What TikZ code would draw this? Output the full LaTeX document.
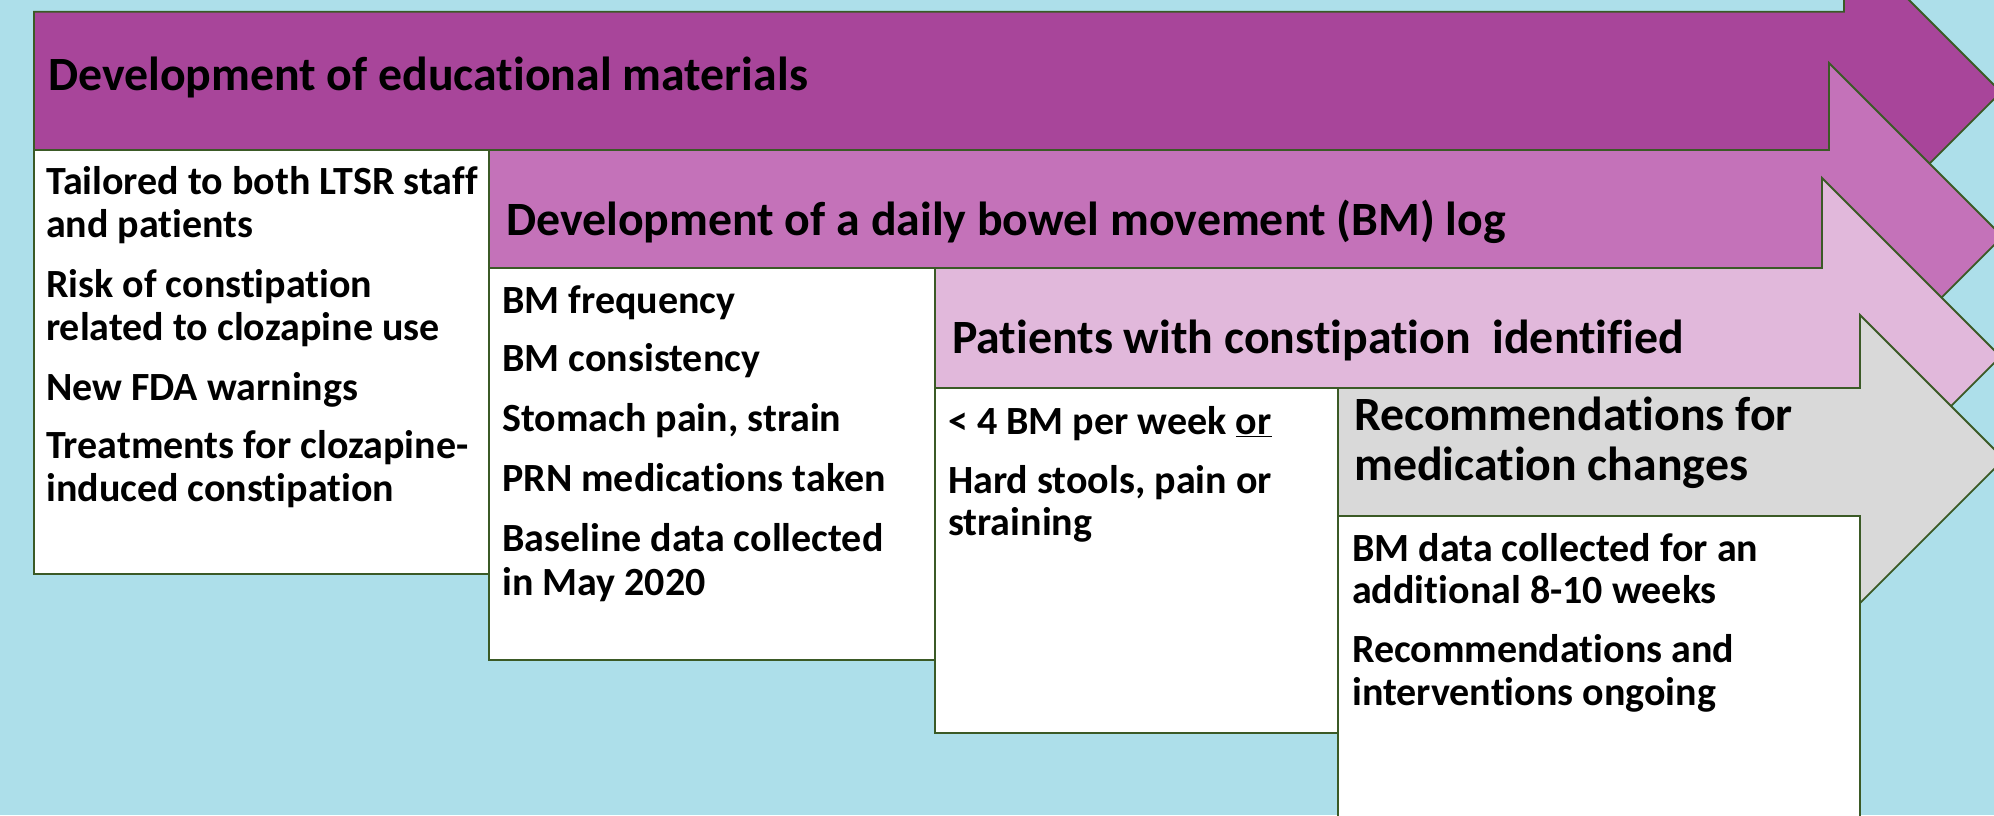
\documentclass[tikz,border=0pt]{standalone}
\usepackage{fontspec}
\setmainfont{Carlito}[Ligatures=NoCommon]
\definecolor{bgblue}{HTML}{ADDFEA}
\definecolor{aone}{HTML}{A8459A}
\definecolor{atwo}{HTML}{C472B9}
\definecolor{athree}{HTML}{E1B8DB}
\definecolor{afour}{HTML}{D9D9D9}
\definecolor{edge}{HTML}{3B5A26}
\begin{document}
\begin{tikzpicture}[x=1pt,y=-1pt,line join=miter,
  shp/.style={draw=edge,line width=1.8pt},
  wbox/.style={draw=edge,line width=1.8pt,fill=white},
  hd/.style={anchor=base west,inner sep=0pt,font=\fontsize{47.8}{50}\selectfont\bfseries},
  bt/.style={anchor=base west,inner sep=0pt,font=\fontsize{40}{43}\selectfont\bfseries}]
\useasboundingbox (0,0) rectangle (1994,815);
\fill[bgblue] (0,0) rectangle (1994,815);
\clip (0,0) rectangle (1994,815);
% arrow 1
\draw[shp,fill=aone] (34,11.7) -- (1844,11.7) -- (1844,-65) -- (2001,92) -- (1844,249) -- (1844,172) -- (34,172) -- cycle;
\draw[wbox] (34,150) rectangle (489,574);
% arrow 2
\draw[shp,fill=atwo] (489,150) -- (1829,150) -- (1829,63) -- (2002.5,236.5) -- (1829,410) -- (1829,322) -- (489,322) -- cycle;
\draw[wbox] (489,268) rectangle (935,660);
% arrow 3
\draw[shp,fill=athree] (935,268) -- (1822,268) -- (1822,178) -- (2000.5,356.5) -- (1822,535) -- (1822,445) -- (935,445) -- cycle;
\draw[wbox] (935,388) rectangle (1338,733);
% arrow 4
\draw[shp,fill=afour] (1338,388) -- (1860,388) -- (1860,315) -- (2004,459) -- (1860,603) -- (1860,531) -- (1338,531) -- cycle;
\draw[wbox] (1338,516) rectangle (1860,900);
% headings
\node[hd] (h1) at (48,90) {Development of educational materials};
\node[hd] (h2) at (506,235) {Development of a daily bowel movement (BM) log};
\node[hd] (h3) at (952,353) {Patients with constipation \ identified};
\node[hd] (h4a) at (1354,430) {Recommendations for};
\node[hd] (h4b) at (1354,480) {medication changes};
% box 1
\node[bt] (b1a) at (46,194.5) {Tailored to both LTSR staff};
\node[bt] (b1b) at (46,237) {and patients};
\node[bt] (b1c) at (46,297) {Risk of constipation};
\node[bt] (b1d) at (46,340) {related to clozapine use};
\node[bt] (b1e) at (46,400) {New FDA warnings};
\node[bt] (b1f) at (46,458.5) {Treatments for clozapine-};
\node[bt] (b1g) at (46,501) {induced constipation};
% box 2
\node[bt] (b2a) at (502,313) {BM frequency};
\node[bt] (b2b) at (502,371) {BM consistency};
\node[bt] (b2c) at (502,431) {Stomach pain, strain};
\node[bt] (b2d) at (502,491) {PRN medications taken};
\node[bt] (b2e) at (502,551) {Baseline data collected};
\node[bt] (b2f) at (502,595) {in May 2020};
% box 3
\node[bt] (b3a) at (948,434) {< 4 BM per week \underline{or}};
\node[bt] (b3b) at (948,493) {Hard stools, pain or};
\node[bt] (b3c) at (948,535) {straining};
% box 4
\node[bt] (b4a) at (1352,561) {BM data collected for an};
\node[bt] (b4b) at (1352,603) {additional 8-10 weeks};
\node[bt] (b4c) at (1352,662) {Recommendations and};
\node[bt] (b4d) at (1352,705) {interventions ongoing};
\end{tikzpicture}
\end{document}
